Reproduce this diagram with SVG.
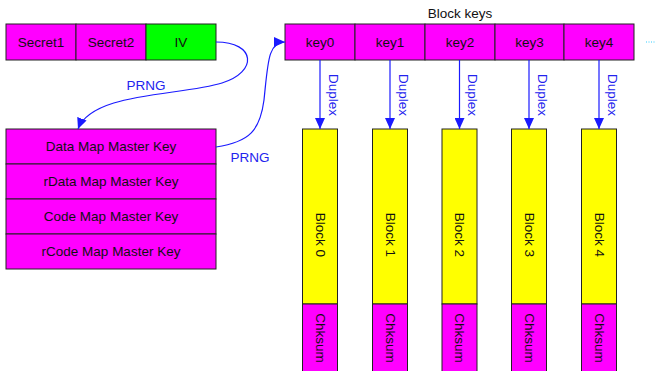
<svg xmlns="http://www.w3.org/2000/svg" width="655" height="371" viewBox="0 0 655 371">
<defs>
<style>
.box{stroke:#222;stroke-width:1}
.mag{fill:#ff00ff}
.grn{fill:#00ff00}
.yel{fill:#ffff00}
.t{font-family:"Liberation Sans",Arial,sans-serif;font-size:13.5px;fill:#111;text-anchor:middle;dominant-baseline:central}
.bl{font-family:"Liberation Sans",Arial,sans-serif;font-size:13.5px;fill:#2222ee;text-anchor:middle;dominant-baseline:central}
.c{fill:none;stroke:#1a1aff;stroke-width:1.2}
</style>
<marker id="ah" markerUnits="userSpaceOnUse" markerWidth="12" markerHeight="10" refX="11" refY="5" orient="auto">
<path d="M0,0 L11,5 L0,10 z" fill="#1a1aff"/>
</marker>
</defs>
<rect width="655" height="371" fill="#fff"/>

<g id="secret1"><rect class="box mag" x="6" y="24" width="70" height="36"/><text class="t" x="41" y="42">Secret1</text></g>
<g id="secret2"><rect class="box mag" x="76" y="24" width="70" height="36"/><text class="t" x="111" y="42">Secret2</text></g>
<g id="iv"><rect class="box grn" x="146" y="24" width="70" height="36"/><text class="t" x="181" y="42">IV</text></g>

<g id="data-map"><rect class="box mag" x="6" y="129" width="210" height="35"/><text class="t" x="111" y="146.5">Data Map Master Key</text></g>
<g id="rdata-map"><rect class="box mag" x="6" y="164" width="210" height="35"/><text class="t" x="111" y="181.5">rData Map Master Key</text></g>
<g id="code-map"><rect class="box mag" x="6" y="199" width="210" height="35"/><text class="t" x="111" y="216.5">Code Map Master Key</text></g>
<g id="rcode-map"><rect class="box mag" x="6" y="234" width="210" height="35"/><text class="t" x="111" y="251.5">rCode Map Master Key</text></g>

<g id="block-keys-label"><text class="t" x="460" y="13">Block keys</text></g>
<g id="key0"><rect class="box mag" x="285" y="24" width="70" height="36"/><text class="t" x="320" y="42">key0</text></g>
<g id="key1"><rect class="box mag" x="355" y="24" width="70" height="36"/><text class="t" x="390" y="42">key1</text></g>
<g id="key2"><rect class="box mag" x="425" y="24" width="70" height="36"/><text class="t" x="460" y="42">key2</text></g>
<g id="key3"><rect class="box mag" x="495" y="24" width="69" height="36"/><text class="t" x="529.5" y="42">key3</text></g>
<g id="key4"><rect class="box mag" x="564" y="24" width="70" height="36"/><text class="t" x="599" y="42">key4</text></g>
<g id="more"><line x1="646" y1="42" x2="655" y2="42" stroke="#33ccff" stroke-width="1" stroke-dasharray="1,1.5"/></g>

<g id="block0"><rect class="box yel" x="302.5" y="129" width="35" height="175"/><text class="t" transform="translate(320,235) rotate(90)">Block 0</text></g>
<g id="chk0"><rect class="box mag" x="302.5" y="304" width="35" height="72"/><text class="t" transform="translate(320,338) rotate(90)">Chksum</text></g>
<g id="block1"><rect class="box yel" x="372.5" y="129" width="35" height="175"/><text class="t" transform="translate(390,235) rotate(90)">Block 1</text></g>
<g id="chk1"><rect class="box mag" x="372.5" y="304" width="35" height="72"/><text class="t" transform="translate(390,338) rotate(90)">Chksum</text></g>
<g id="block2"><rect class="box yel" x="442" y="129" width="35" height="175"/><text class="t" transform="translate(459.5,235) rotate(90)">Block 2</text></g>
<g id="chk2"><rect class="box mag" x="442" y="304" width="35" height="72"/><text class="t" transform="translate(459.5,338) rotate(90)">Chksum</text></g>
<g id="block3"><rect class="box yel" x="511.5" y="129" width="35" height="175"/><text class="t" transform="translate(529,235) rotate(90)">Block 3</text></g>
<g id="chk3"><rect class="box mag" x="511.5" y="304" width="35" height="72"/><text class="t" transform="translate(529,338) rotate(90)">Chksum</text></g>
<g id="block4"><rect class="box yel" x="581.5" y="129" width="35" height="175"/><text class="t" transform="translate(599,235) rotate(90)">Block 4</text></g>
<g id="chk4"><rect class="box mag" x="581.5" y="304" width="35" height="72"/><text class="t" transform="translate(599,338) rotate(90)">Chksum</text></g>

<g id="connectors">
<path class="c" d="M216,42 C256,42 258,72 222,83 C180,96 92,92 78,129" marker-end="url(#ah)"/>
<text class="bl" x="146" y="85">PRNG</text>
<path class="c" d="M216,147 C250,142 260,130 264,100 C268,62 268,42 285,42" marker-end="url(#ah)"/>
<text class="bl" x="250" y="157">PRNG</text>
<line class="c" x1="320" y1="60" x2="320" y2="129" marker-end="url(#ah)"/>
<line class="c" x1="390" y1="60" x2="390" y2="129" marker-end="url(#ah)"/>
<line class="c" x1="459.5" y1="60" x2="459.5" y2="129" marker-end="url(#ah)"/>
<line class="c" x1="529" y1="60" x2="529" y2="129" marker-end="url(#ah)"/>
<line class="c" x1="599" y1="60" x2="599" y2="129" marker-end="url(#ah)"/>
<text class="bl" transform="translate(333,95) rotate(90)">Duplex</text>
<text class="bl" transform="translate(403,95) rotate(90)">Duplex</text>
<text class="bl" transform="translate(472.5,95) rotate(90)">Duplex</text>
<text class="bl" transform="translate(542,95) rotate(90)">Duplex</text>
<text class="bl" transform="translate(612,95) rotate(90)">Duplex</text>
</g>
</svg>
